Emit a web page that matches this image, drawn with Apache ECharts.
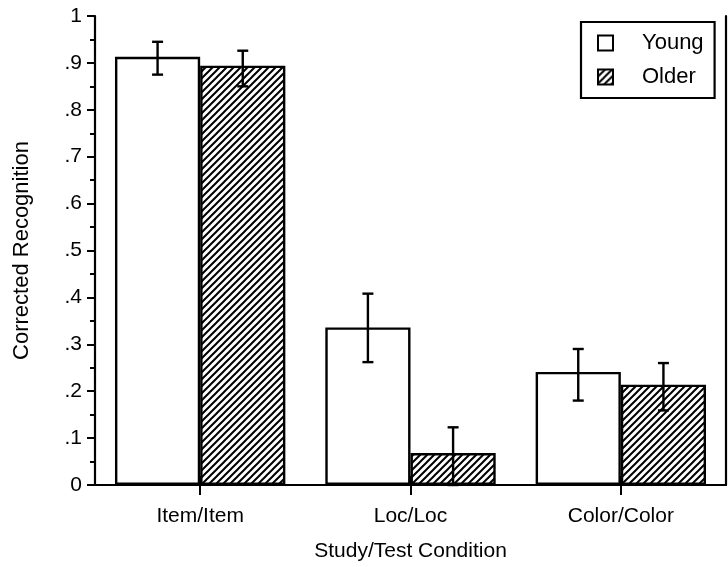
<!DOCTYPE html>
<html>
<head>
<meta charset="utf-8">
<script src="https://cdn.jsdelivr.net/npm/echarts@6/dist/echarts.min.js"></script>
<style>
html,body{margin:0;padding:0;background:#fff;}
#c{width:728px;height:567px;}
</style>
</head>
<body>
<div id="c"></div>
<script>
// ---- data ----
const categories = ['Item/Item', 'Loc/Loc', 'Color/Color'];
const seriesNames = ['Young', 'Older'];
const young = [0.913, 0.336, 0.241];
const older = [0.894, 0.068, 0.214];
const youngLow = [0.875, 0.262, 0.180];
const youngHigh = [0.945, 0.408, 0.290];
const olderLow = [0.850, 0.000, 0.159];
const olderHigh = [0.926, 0.123, 0.260];
const yTicks = [0, 0.1, 0.2, 0.3, 0.4, 0.5, 0.6, 0.7, 0.8, 0.9, 1];

// ---- hatch pattern ----
function hatch() {
  const s = 7;
  const cv = document.createElement('canvas');
  cv.width = s; cv.height = s;
  const ctx = cv.getContext('2d');
  ctx.fillStyle = '#fff';
  ctx.fillRect(0, 0, s, s);
  ctx.strokeStyle = '#000';
  ctx.lineWidth = 2;
  ctx.beginPath();
  for (let k = -1; k <= 1; k++) {
    ctx.moveTo(k * s - 1, s + 1);
    ctx.lineTo(k * s + s + 1, -1);
  }
  ctx.stroke();
  return cv;
}

const FONT = 'Liberation Sans, Arial, Helvetica, sans-serif';
const FS = 21;
const GAP = '19%';

function errRows(lo, hi) {
  return categories.map((c, i) => [i, lo[i], hi[i]]);
}
function errSeries(lo, hi, side) {
  return {
    type: 'custom',
    xAxisIndex: 0,
    yAxisIndex: 0,
    silent: true,
    z: 10,
    encode: { x: 0, y: [1, 2] },
    data: errRows(lo, hi),
    renderItem: function (params, api) {
      const band = api.size([1, 0])[0];
      const bw = band * (1 - 0.19) / 2;
      const c0 = api.coord([api.value(0), api.value(1)]);
      const c1 = api.coord([api.value(0), api.value(2)]);
      const x = c0[0] + side * bw / 2;
      const cap = 5.5;
      const st = { stroke: '#000', lineWidth: 2.4, fill: null };
      return {
        type: 'group',
        children: [
          { type: 'line', shape: { x1: x, y1: c0[1], x2: x, y2: c1[1] }, style: st },
          { type: 'line', shape: { x1: x - cap, y1: c0[1], x2: x + cap, y2: c0[1] }, style: st },
          { type: 'line', shape: { x1: x - cap, y1: c1[1], x2: x + cap, y2: c1[1] }, style: st }
        ]
      };
    }
  };
}

const chart = echarts.init(document.getElementById('c'), null, { renderer: 'canvas' });
const pattern = { image: hatch(), repeat: 'repeat' };

chart.setOption({
  animation: false,
  backgroundColor: '#fff',
  textStyle: { fontFamily: FONT, color: '#000' },
  grid: { left: 95, right: 2, top: 16, bottom: 78, containLabel: false },
  legend: {
    data: seriesNames,
    orient: 'vertical',
    left: 581,
    top: 22,
    padding: [10, 11, 10, 16],
    borderColor: '#000',
    borderWidth: 2.2,
    backgroundColor: '#fff',
    itemWidth: 15,
    itemHeight: 15,
    itemGap: 12,
    icon: 'rect',
    textStyle: { fontFamily: FONT, fontSize: 22, color: '#000', padding: [0, 0, 0, 24] }
  },
  xAxis: [
    {
      type: 'category',
      data: categories,
      position: 'bottom',
      name: 'Study/Test Condition',
      nameLocation: 'middle',
      nameGap: 56,
      nameTextStyle: { fontFamily: FONT, fontSize: FS, color: '#000' },
      axisLine: { show: true, lineStyle: { color: '#000', width: 2.2 } },
      axisTick: { show: true, alignWithLabel: true, length: 10, lineStyle: { color: '#000', width: 2 } },
      axisLabel: { fontFamily: FONT, fontSize: FS, color: '#000', margin: 21 },
      splitLine: { show: false }
    },
    {
      type: 'category',
      data: categories,
      position: 'top',
      axisLine: { show: true, lineStyle: { color: '#000', width: 2.2 } },
      axisTick: { show: true, alignWithLabel: true, length: 9, lineStyle: { color: '#000', width: 2 } },
      axisLabel: { show: false },
      splitLine: { show: false }
    }
  ],
  yAxis: [
    {
      type: 'value',
      min: yTicks[0],
      max: yTicks[yTicks.length - 1],
      interval: 0.1,
      name: 'Corrected Recognition',
      nameLocation: 'middle',
      nameGap: 62,
      nameRotate: 90,
      nameTextStyle: { fontFamily: FONT, fontSize: 22, color: '#000' },
      axisLine: { show: true, lineStyle: { color: '#000', width: 2.2 } },
      axisTick: { show: true, length: 8, lineStyle: { color: '#000', width: 2 } },
      minorTick: { show: true, splitNumber: 2, length: 5, lineStyle: { color: '#000', width: 2 } },
      axisLabel: {
        fontFamily: FONT, fontSize: FS, color: '#000', margin: 13,
        formatter: function (v) {
          const r = Math.round(v * 10) / 10;
          if (r === 0) return '0';
          if (r === 1) return '1';
          return '.' + Math.round(r * 10);
        }
      },
      splitLine: { show: false },
      minorSplitLine: { show: false }
    },
    {
      type: 'value',
      min: yTicks[0],
      max: yTicks[yTicks.length - 1],
      interval: 0.1,
      position: 'right',
      axisLine: { show: true, lineStyle: { color: '#000', width: 2.2 } },
      axisTick: { show: false },
      axisLabel: { show: false },
      splitLine: { show: false }
    }
  ],
  series: [
    {
      name: seriesNames[0],
      type: 'bar',
      data: young,
      barGap: '0%',
      barCategoryGap: GAP,
      itemStyle: { color: '#fff', borderColor: '#000', borderWidth: 2.4 }
    },
    {
      name: seriesNames[1],
      type: 'bar',
      data: older,
      barGap: '0%',
      barCategoryGap: GAP,
      itemStyle: { color: pattern, borderColor: '#000', borderWidth: 2.4 }
    },
    errSeries(youngLow, youngHigh, -1),
    errSeries(olderLow, olderHigh, 1)
  ]
});
</script>
</body>
</html>
